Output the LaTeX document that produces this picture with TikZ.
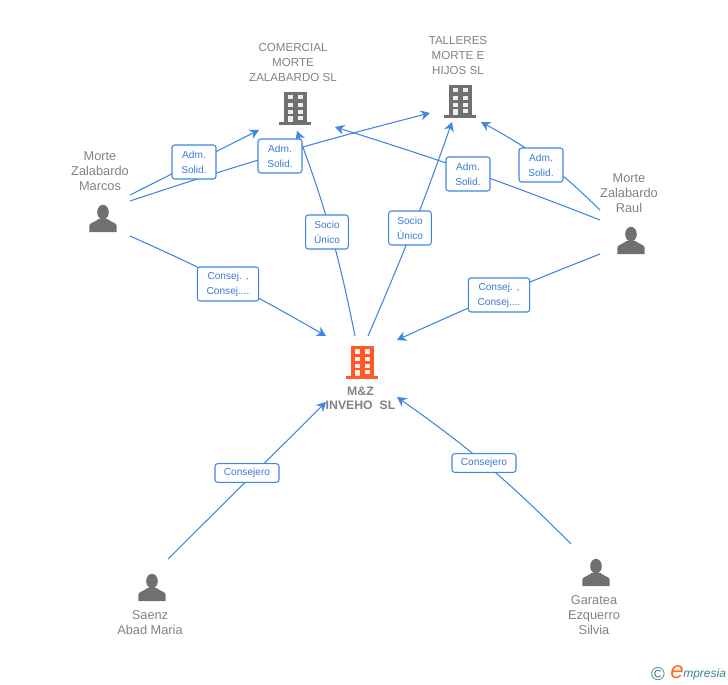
\documentclass[tikz,border=0pt]{standalone}
\usepackage{fontspec}
\setmainfont{Liberation Sans}
\usetikzlibrary{arrows.meta,backgrounds}
\definecolor{linkblue}{HTML}{3F86E3}
\definecolor{labelblue}{HTML}{3A7BD5}
\definecolor{iconGrey}{HTML}{707070}
\definecolor{textGrey}{HTML}{828282}
\definecolor{mainOrange}{HTML}{FF5A2A}
\definecolor{logoBlue}{HTML}{3F7F95}
\def\buildingicon[#1](#2,#3){
	\begin{scope}[shift={(#2,#3)}]
		\fill[#1] (-11.5,-16) rectangle (11.5,14);
		\fill[#1] (-16,14) rectangle (16,17);
		\foreach \wy in {-12.7,-5,1.6}{
			\fill[white!88!#1] (-7.5,\wy) rectangle (-2.5,{\wy+4.2});
			\fill[white!88!#1] (2.5,\wy) rectangle (7.5,{\wy+4.2});
		}
		\fill[white!88!#1] (-7.5,7.6) rectangle (-2.5,14);
		\fill[white!88!#1] (2.5,7.6) rectangle (7.5,12);
	\end{scope}
}
\def\personicon(#1,#2){
	\begin{scope}[shift={(#1,#2)}]
		\fill[iconGrey] (0,-6.8) ellipse (5.8 and 7.4);
		\fill[iconGrey] (-13.7,13) -- (-13.7,7) .. controls (-13.7,3.5) and (-8,3.5) .. (-4.5,0) -- (4.5,0) .. controls (8,3.5) and (13.7,3.5) .. (13.7,7) -- (13.7,13) -- cycle;
	\end{scope}
}
\tikzset{
	every picture/.style={x=0.75pt,y=-0.75pt},
	entname/.style={text=textGrey,align=center,inner sep=0pt,font=\fontsize{9.6}{11.25}\selectfont},
	firmname/.style={text=textGrey,align=center,inner sep=0pt,font=\fontsize{8.7}{11.25}\selectfont},
	linkbox/.style={draw=linkblue,fill=white,rounded corners=2pt,line width=0.8pt,text=labelblue,align=center,inner sep=0pt,minimum height=25.5pt,font=\fontsize{7.6}{11.25}\selectfont},
	link/.style={draw=linkblue,line width=0.8pt},
	linkarrow/.style={link,-{Stealth[length=7pt,width=7.5pt]}},
}
\begin{document}
\begin{tikzpicture}
	%%%%% START %%%%%
	\useasboundingbox (0,0) rectangle (728,685);

	% companies
	\buildingicon[iconGrey](295,108);
	\buildingicon[iconGrey](460,101);
	\buildingicon[mainOrange](362,362);
	\node[firmname] (comercial) at (293,63) {COMERCIAL\\MORTE\\ZALABARDO SL};
	\node[firmname] (talleres) at (458,56) {TALLERES\\MORTE E\\HIJOS SL};
	\node[firmname,font=\fontsize{9.2}{10.5}\selectfont\bfseries] (inveho) at (360.5,398) {M\&Z\\INVEHO\ \ SL};

	% people
	\personicon(103,219);
	\personicon(631,241);
	\personicon(152,588);
	\personicon(596,573);
	\node[entname] (marcos) at (100,171) {Morte\\Zalabardo\\Marcos};
	\node[entname] (raul) at (629,193) {Morte\\Zalabardo\\Raul};
	\node[entname] (saenz) at (150,622.5) {Saenz\\Abad Maria};
	\node[entname] (garatea) at (594,615) {Garatea\\Ezquerro\\Silvia};

	% labels
	\node[linkbox,minimum width=33pt] (admA) at (194,162) {Adm.\\Solid.};
	\node[linkbox,minimum width=33pt] (admB) at (280,156) {Adm.\\Solid.};
	\node[linkbox,minimum width=33pt] (admC) at (468,174) {Adm.\\Solid.};
	\node[linkbox,minimum width=33pt] (admD) at (541,165) {Adm.\\Solid.};
	\node[linkbox,minimum width=32pt] (socioA) at (327,232) {Socio\\Único};
	\node[linkbox,minimum width=32pt] (socioB) at (410,228) {Socio\\Único};
	\node[linkbox,minimum width=46pt] (consejA) at (228,284) {Consej. ,\\Consej....};
	\node[linkbox,minimum width=46pt] (consejB) at (499,295) {Consej. ,\\Consej....};
	\node[linkbox,minimum width=48pt,minimum height=14pt] (consejeroA) at (247,473) {Consejero};
	\node[linkbox,minimum width=48pt,minimum height=14pt] (consejeroB) at (484,463) {Consejero};

	% free ends
	\coordinate (marcosA) at (130,195);
	\coordinate (marcosB) at (130,201);
	\coordinate (marcosC) at (130,236);
	\coordinate (raulA) at (600,210);
	\coordinate (raulB) at (600,220);
	\coordinate (raulC) at (600,254);
	\coordinate (saenzA) at (168,559);
	\coordinate (garateaA) at (571,544);
	\coordinate (inveA) at (355,336);
	\coordinate (inveB) at (368,336);
	\coordinate (tipComA) at (259,130);
	\coordinate (tipComB) at (335,127);
	\coordinate (tipComC) at (297,131);
	\coordinate (tipTalA) at (430,113);
	\coordinate (tipTalB) at (452,122);
	\coordinate (tipTalC) at (481,122);
	\coordinate (tipInvA) at (326,336);
	\coordinate (tipInvB) at (397,340);
	\coordinate (tipInvC) at (326,402);
	\coordinate (tipInvD) at (397,397);

	\begin{scope}[on background layer]
		\draw[linkarrow] (marcosA) -- (tipComA);
		\draw[linkarrow] (marcosB) to[bend left=2] (tipTalA);
		\draw[linkarrow] (marcosC) to[bend left=3] (tipInvA);
		\draw[linkarrow] (raulA) to[bend right=8] (tipTalC);
		\draw[linkarrow] (raulB) to[bend right=2] (tipComB);
		\draw[linkarrow] (raulC) to[bend right=1.5] (tipInvB);
		\draw[linkarrow] (inveA) to[bend right=4.5] (tipComC);
		\draw[linkarrow] (inveB) to[bend right=2] (tipTalB);
		\draw[linkarrow] (saenzA) -- (tipInvC);
		\draw[linkarrow] (garateaA) to[bend right=5] (tipInvD);
	\end{scope}

	% logo
	\node[text=logoBlue,inner sep=0pt,font=\fontsize{14}{14}\selectfont] (copyr) at (658,674) {©};
	\node[text=mainOrange!90!yellow,inner sep=0pt,font=\fontsize{18}{18}\selectfont\itshape] (logoE) at (677,672) {e};
	\node[text=logoBlue,inner sep=0pt,anchor=west,font=\fontsize{9}{9}\selectfont\itshape] (logoT) at (683,674) {mpresia};
	%%%%% END %%%%%
\end{tikzpicture}
\end{document}
